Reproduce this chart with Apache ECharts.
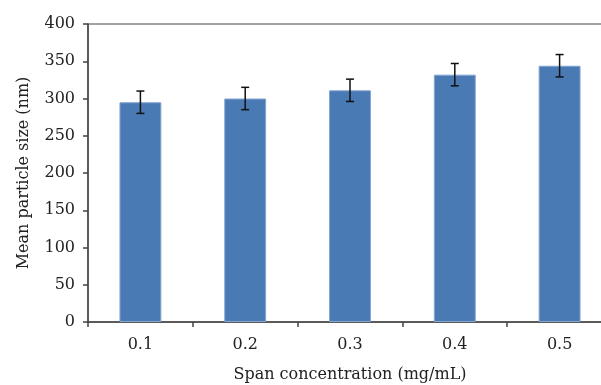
<!DOCTYPE html>
<html>
<head>
<meta charset="utf-8">
<script src="https://cdn.jsdelivr.net/npm/echarts@6/dist/echarts.min.js"></script>
<style>
  html, body { margin: 0; padding: 0; background: #fff; }
  #chart { width: 601px; height: 385px; }
</style>
</head>
<body>
<div id="chart"></div>
<script>
// values
const categories = ["0.1", "0.2", "0.3", "0.4", "0.5"];
const meanSize = [295, 300, 311, 332, 344];
const errSize = [15, 15, 15, 15, 15];

const FONT = "DejaVu Serif";

const chart = echarts.init(document.getElementById("chart"), null, { renderer: "canvas" });

const errData = categories.map((c, i) => [i, meanSize[i] - errSize[i], meanSize[i] + errSize[i]]);

chart.setOption({
  animation: false,
  grid: {
    left: 88, top: 24, width: 524, height: 298,
    outerBoundsMode: "none",
    containLabel: false,
    show: true, borderColor: "#444", borderWidth: 1, backgroundColor: "transparent"
  },
  xAxis: {
    type: "category",
    data: categories,
    name: "Span concentration (mg/mL)",
    nameLocation: "middle",
    nameGap: 45,
    nameTextStyle: { fontFamily: FONT, fontSize: 16, color: "#222" },
    axisLine: { lineStyle: { color: "#444", width: 1.5 } },
    axisTick: { show: true, length: 5, lineStyle: { color: "#444", width: 1.5 } },
    axisLabel: { fontFamily: FONT, fontSize: 16, color: "#222", margin: 15 },
    splitLine: { show: false }
  },
  yAxis: {
    type: "value",
    min: 0, max: 400, interval: 50,
    name: "Mean particle size (nm)",
    nameLocation: "middle",
    nameGap: 56,
    nameTextStyle: { fontFamily: FONT, fontSize: 16, color: "#222" },
    axisLine: { show: true, lineStyle: { color: "#444", width: 1.5 } },
    axisTick: { show: true, length: 5, lineStyle: { color: "#444", width: 1.5 } },
    axisLabel: { fontFamily: FONT, fontSize: 16, color: "#222", margin: 13 },
    splitLine: { show: false }
  },
  series: [
    {
      type: "bar",
      data: meanSize,
      barWidth: "40%",
      itemStyle: { color: "#4a7ab4", borderColor: "#86a6d2", borderWidth: 1 }
    },
    {
      type: "custom",
      data: errData,
      z: 10,
      renderItem: function (params, api) {
        const x = api.value(0);
        const lo = api.coord([x, api.value(1)]);
        const hi = api.coord([x, api.value(2)]);
        const half = 4;
        const style = { stroke: "#111", lineWidth: 1.5 };
        return {
          type: "group",
          children: [
            { type: "line", shape: { x1: hi[0], y1: hi[1], x2: lo[0], y2: lo[1] }, style },
            { type: "line", shape: { x1: hi[0] - half, y1: hi[1], x2: hi[0] + half, y2: hi[1] }, style },
            { type: "line", shape: { x1: lo[0] - half, y1: lo[1], x2: lo[0] + half, y2: lo[1] }, style }
          ]
        };
      }
    }
  ]
});
</script>
</body>
</html>
